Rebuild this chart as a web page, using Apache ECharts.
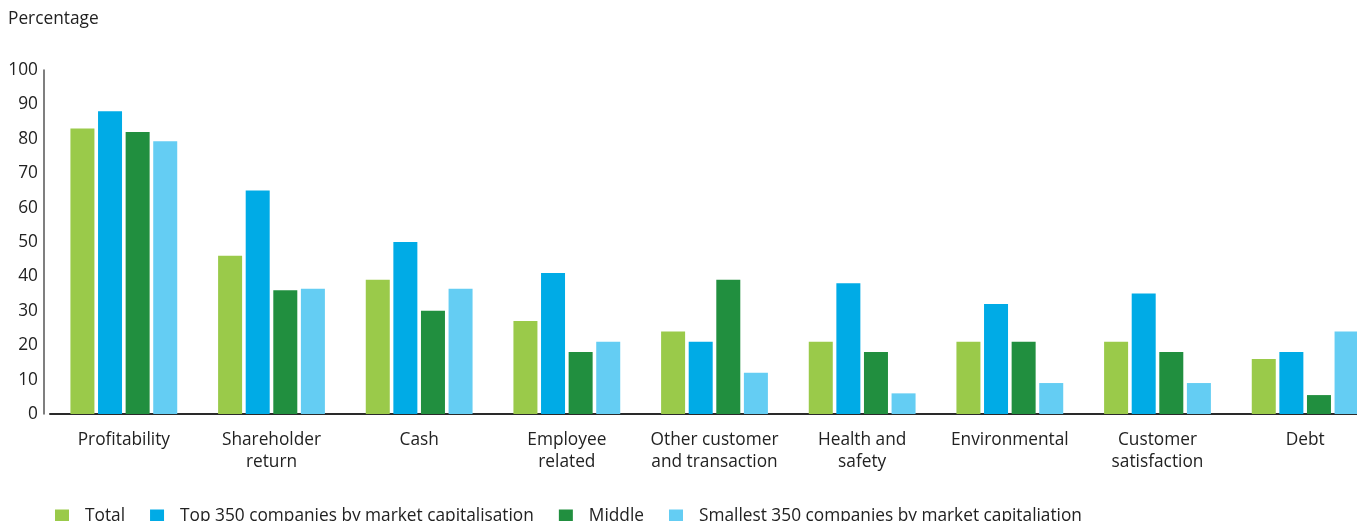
<!DOCTYPE html>
<html>
<head>
<meta charset="utf-8">
<script src="https://cdn.jsdelivr.net/npm/echarts@6/dist/echarts.min.js"></script>
<style>
  html, body { margin: 0; padding: 0; background: #fff; }
  #chart { width: 1357px; height: 521px; }
</style>
</head>
<body>
<div id="chart"></div>
<script>
// Performance measures used, by company size (percentage of companies)
const categories = [
  'Profitability', 'Shareholder\nreturn', 'Cash', 'Employee\nrelated',
  'Other customer\nand transaction', 'Health and\nsafety', 'Environmental',
  'Customer\nsatisfaction', 'Debt'
];
const seriesNames = [
  'Total',
  'Top 350 companies by market capitalisation',
  'Middle',
  'Smallest 350 companies by market capitaliation'
];
const total    = [83, 46, 39, 27, 24, 21, 21, 21, 16];
const top350   = [88, 65, 50, 41, 21, 38, 32, 35, 18];
const middle   = [82, 36, 30, 18, 39, 18, 21, 18, 5.5];
const smallest = [79.3, 36.4, 36.4, 21, 12, 6, 9, 9, 24];
const yTicks = [0, 10, 20, 30, 40, 50, 60, 70, 80, 90, 100];

const colors = ['#9aca4a', '#00abe6', '#218f3f', '#64cdf3'];
const font = '"Open Sans", "Noto Sans", sans-serif';
const fs = 17.3;

const chart = echarts.init(document.getElementById('chart'), null, { renderer: 'canvas' });

const makeSeries = (name, data, color) => ({
  name, type: 'bar', data,
  barWidth: 24, barGap: '15%',
  itemStyle: { color },
  emphasis: { disabled: true }
});

chart.setOption({
  animation: false,
  color: colors,
  textStyle: { fontFamily: font },
  title: {
    text: 'Percentage', left: 3, top: 6,
    textStyle: { fontSize: fs, fontWeight: 'normal', color: '#222', fontFamily: font }
  },
  legend: {
    data: seriesNames, left: 55, top: 508, padding: 0,
    itemWidth: 14, itemHeight: 14, itemGap: 25,
    icon: 'rect',
    textStyle: { fontSize: fs, color: '#222', fontFamily: font, padding: [0, 0, 0, 11] }
  },
  grid: { left: 50, top: 70, width: 1329, bottom: 107, containLabel: false, outerBoundsMode: 'none' },
  xAxis: {
    type: 'category', data: categories,
    axisLine: { lineStyle: { color: '#2a2a2a', width: 2 } },
    axisTick: { show: false },
    axisLabel: { fontSize: fs, color: '#222', lineHeight: 22, margin: 15, interval: 0, fontFamily: font }
  },
  yAxis: {
    type: 'value', min: yTicks[0], max: yTicks[yTicks.length - 1], interval: 10,
    offset: 6,
    axisLine: { show: true, lineStyle: { color: '#555', width: 1.5 } },
    axisTick: { show: false },
    splitLine: { show: false },
    axisLabel: { fontSize: fs, color: '#222', margin: 6, fontFamily: font }
  },
  series: [
    makeSeries(seriesNames[0], total, colors[0]),
    makeSeries(seriesNames[1], top350, colors[1]),
    makeSeries(seriesNames[2], middle, colors[2]),
    makeSeries(seriesNames[3], smallest, colors[3])
  ]
});
</script>
</body>
</html>
